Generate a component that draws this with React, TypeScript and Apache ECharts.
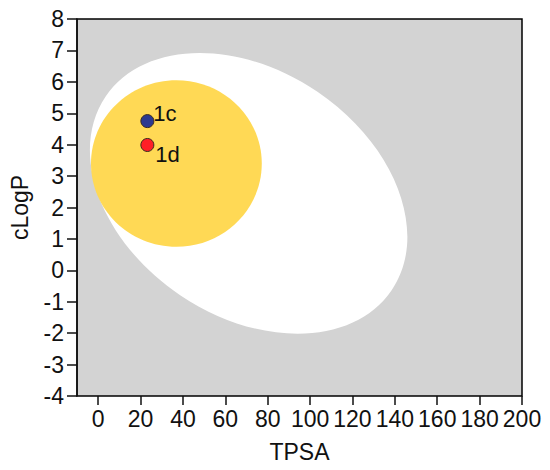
import React, { useEffect, useRef } from "react";
import * as echarts from "echarts";

// Tick values
const xTicks = [0, 20, 40, 60, 80, 100, 120, 140, 160, 180, 200];
// Compounds
const names = ["1c", "1d"];
const tpsa = [23.2, 23.2];
const clogp = [4.75, 3.99];
const pointColors = ["#2b3990", "#ff1f26"];
// Egg regions: [centerTPSA, centerLogP, semiAxisA, semiAxisB (both in TPSA units), angleDeg]
const whiteEgg = [71.0, 2.45, 81.5, 57.9, -34.1];
const yolk = [36.9, 3.4, 40.3, 39.3, 0];

export default function App() {
  const ref = useRef<HTMLDivElement>(null);
  useEffect(() => {
    if (!ref.current) return;
    document.body.style.margin = "0";
    const chart = echarts.init(ref.current, undefined, { renderer: "svg" });
    const font = "Liberation Sans, Arial, sans-serif";
    const ellipseSeries = (d: number[], color: string, z: number) => ({
      type: "custom",
      silent: true,
      z,
      data: [d],
      renderItem: (params: any, api: any) => {
        const c = api.coord([api.value(0), api.value(1)]);
        const unit = api.size([1, 0])[0];
        return {
          type: "ellipse",
          x: c[0],
          y: c[1],
          rotation: (api.value(4) * Math.PI) / 180,
          shape: { cx: 0, cy: 0, rx: api.value(2) * unit, ry: api.value(3) * unit },
          style: { fill: color },
        };
      },
    });
    chart.setOption({
      animation: false,
      grid: {
        left: 76,
        right: 28,
        top: 19,
        bottom: 74,
        show: true,
        backgroundColor: "#d3d3d3",
        borderColor: "#000",
        borderWidth: 1.5,
      },
      xAxis: {
        type: "value",
        min: -10,
        max: 200,
        name: "TPSA",
        nameLocation: "middle",
        nameGap: 44,
        nameTextStyle: { fontFamily: font, fontSize: 23, color: "#111" },
        splitLine: { show: false },
        axisLine: { show: false, onZero: false },
        axisTick: { show: true, length: 9, customValues: xTicks, lineStyle: { color: "#111", width: 1.5 } },
        axisLabel: { customValues: xTicks, fontFamily: font, fontSize: 23, color: "#111", margin: 11 },
      },
      yAxis: {
        type: "value",
        min: -4,
        max: 8,
        interval: 1,
        name: "cLogP",
        nameLocation: "middle",
        nameGap: 46,
        nameTextStyle: { fontFamily: font, fontSize: 23, color: "#111" },
        splitLine: { show: false },
        axisLine: { show: true, onZero: false, lineStyle: { color: "#111", width: 1.5 } },
        axisTick: { show: true, length: 10, lineStyle: { color: "#111", width: 1.5 } },
        axisLabel: { fontFamily: font, fontSize: 23, color: "#111", margin: 13 },
      },
      series: [
        ellipseSeries(whiteEgg, "#ffffff", 1),
        ellipseSeries(yolk, "#ffd955", 2),
        {
          type: "scatter",
          z: 5,
          symbolSize: 13,
          data: names.map((n, i) => ({
            value: [tpsa[i], clogp[i]],
            name: n,
            itemStyle: { color: pointColors[i], opacity: 1, borderColor: "#3a2a20", borderWidth: 1 },
            label: {
              show: true,
              formatter: n,
              position: "right",
              offset: i === 0 ? [-6, -8] : [-4, 10],
              fontFamily: font,
              fontSize: 22,
              color: "#111",
            },
          })),
        },
      ],
    });
    return () => chart.dispose();
  }, []);
  return <div ref={ref} style={{ width: 550, height: 470 }} />;
}
